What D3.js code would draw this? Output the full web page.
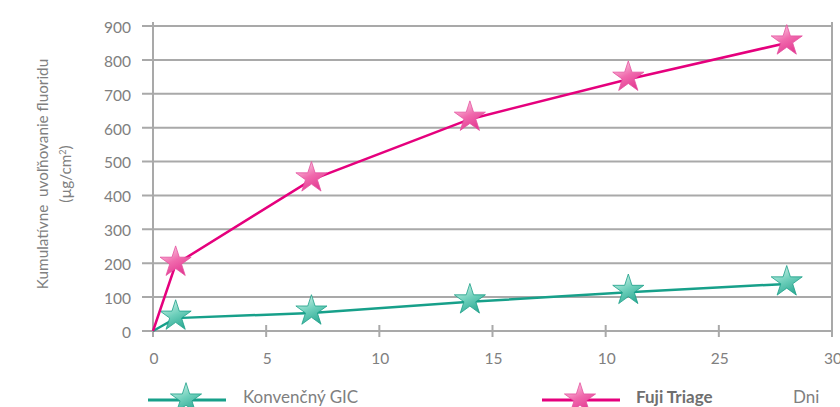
<!DOCTYPE html>
<html>
<head>
<meta charset="utf-8">
<script src="https://cdn.jsdelivr.net/npm/d3@7"></script>
<style>
  body { margin: 0; background: #fff; }
  svg { display: block; font-family: Lato, "Open Sans", sans-serif; }
</style>
</head>
<body>
<div id="chart"></div>
<script>
// data
const days = [0, 1, 7, 14, 21, 28];
const fujiTriage = [0, 197, 446, 625, 743, 850];
const konvencnyGIC = [0, 38, 53, 86, 114, 139];
const xTickValues = [0, 5, 10, 15, 20, 25, 30];
const xTickLabels = ["0", "5", "10", "15", "10", "25", "30"];
const yTickValues = [0, 100, 200, 300, 400, 500, 600, 700, 800, 900];
const seriesNames = ["Konvenčný GIC", "Fuji Triage"];
const xAxisTitle = "Dni";

const width = 840, height = 407;
const margin = { top: 26, right: 8, bottom: 76, left: 153 };
const grid = "#a9a9a9", labelCol = "#808080";
const pink = "#e5007d", teal = "#17a08a";

const svg = d3.select("#chart").append("svg")
    .attr("width", width).attr("height", height);

// gradients for the glossy stars
const defs = svg.append("defs");
function grad(id, c1, c2, c3) {
    const g = defs.append("linearGradient").attr("id", id)
        .attr("x1", "20%").attr("y1", "0%").attr("x2", "70%").attr("y2", "100%");
    g.append("stop").attr("offset", "0%").attr("stop-color", c1);
    g.append("stop").attr("offset", "50%").attr("stop-color", c2);
    g.append("stop").attr("offset", "100%").attr("stop-color", c3);
}
grad("gPink", "#fcd3e6", "#f06aad", "#e2348f");
grad("gTeal", "#d6f4ec", "#6fd0bc", "#2aa892");

const x = d3.scaleLinear().domain([0, 30]).range([margin.left, width - margin.right]);
const y = d3.scaleLinear().domain([0, 900]).range([height - margin.bottom, margin.top]);

// horizontal gridlines + left ticks
svg.append("g").selectAll("line").data(yTickValues).enter().append("line")
    .attr("x1", margin.left - 11).attr("x2", x(30))
    .attr("y1", d => y(d)).attr("y2", d => y(d))
    .attr("stroke", grid).attr("stroke-width", 2);

// y axis line and right border
svg.append("line").attr("x1", x(0)).attr("x2", x(0))
    .attr("y1", y(900) - 4).attr("y2", y(0) + 6)
    .attr("stroke", grid).attr("stroke-width", 2);
svg.append("line").attr("x1", x(30)).attr("x2", x(30))
    .attr("y1", y(900) - 4).attr("y2", y(0) + 6)
    .attr("stroke", grid).attr("stroke-width", 2);

// x ticks
svg.append("g").selectAll("line").data(xTickValues).enter().append("line")
    .attr("x1", d => x(d)).attr("x2", d => x(d))
    .attr("y1", y(0) - 6).attr("y2", y(0) + 6)
    .attr("stroke", grid).attr("stroke-width", 2);

// y tick labels
svg.append("g").selectAll("text").data(yTickValues).enter().append("text")
    .attr("x", margin.left - 22).attr("y", d => y(d) + 1)
    .attr("dy", "0.38em").attr("text-anchor", "end")
    .attr("fill", labelCol).style("font-size", "15.5px")
    .text(d => d);

// x tick labels
svg.append("g").selectAll("text").data(xTickValues).enter().append("text")
    .attr("x", d => x(d) + 1).attr("y", y(0) + 33)
    .attr("text-anchor", "middle")
    .attr("fill", labelCol).style("font-size", "15.5px")
    .text((d, i) => xTickLabels[i]);

// y axis title
const yt = svg.append("text")
    .attr("transform", "translate(48,174) rotate(-90)")
    .attr("text-anchor", "middle").attr("fill", labelCol)
    .style("font-size", "15.3px");
yt.append("tspan").attr("x", 0).attr("dy", 0).attr("xml:space", "preserve")
    .text("Kumulatívne  uvoľňovanie fluoridu");
yt.append("tspan").attr("x", 0).attr("dy", 23).text("(µg/cm")
    .append("tspan").attr("dy", -5).style("font-size", "9px").text("2");
yt.append("tspan").attr("dy", 5).text(")");

// lines
const series = [
    { name: seriesNames[0], values: konvencnyGIC, color: teal, fill: "url(#gTeal)", stroke: "#1c9f88" },
    { name: seriesNames[1], values: fujiTriage, color: pink, fill: "url(#gPink)", stroke: "#e4529f" }
];
const line = d3.line()
    .x((d, i) => x(days[i])).y(d => y(d));

const star = d3.symbol().type(d3.symbolStar).size(300);

series.forEach(s => {
    svg.append("path").datum(s.values)
        .attr("d", line).attr("fill", "none")
        .attr("stroke", s.color).attr("stroke-width", 2.5);
    svg.append("g").selectAll("path").data(s.values.slice(1)).enter().append("path")
        .attr("d", star)
        .attr("transform", (d, i) => `translate(${x(days[i + 1])},${y(d) - 2})`)
        .attr("fill", s.fill).attr("stroke", s.stroke).attr("stroke-width", 0.8);
});

// legend
const legend = [
    { s: series[0], x0: 148, tx: 243, bold: false },
    { s: series[1], x0: 542, tx: 636, bold: true }
];
legend.forEach(l => {
    svg.append("line").attr("x1", l.x0).attr("x2", l.x0 + 78)
        .attr("y1", 400).attr("y2", 400)
        .attr("stroke", l.s.color).attr("stroke-width", 3);
    svg.append("path").attr("d", star)
        .attr("transform", `translate(${l.x0 + 38},399)`)
        .attr("fill", l.s.fill).attr("stroke", l.s.stroke).attr("stroke-width", 0.8);
    svg.append("text").attr("x", l.tx).attr("y", 403)
        .attr("fill", l.bold ? "#6f6f6f" : labelCol)
        .style("font-size", "17px").style("font-weight", l.bold ? "bold" : "normal")
        .text(l.s.name);
});
svg.append("text").attr("x", 793).attr("y", 403)
    .attr("fill", labelCol).style("font-size", "17px").text(xAxisTitle);
</script>
</body>
</html>
